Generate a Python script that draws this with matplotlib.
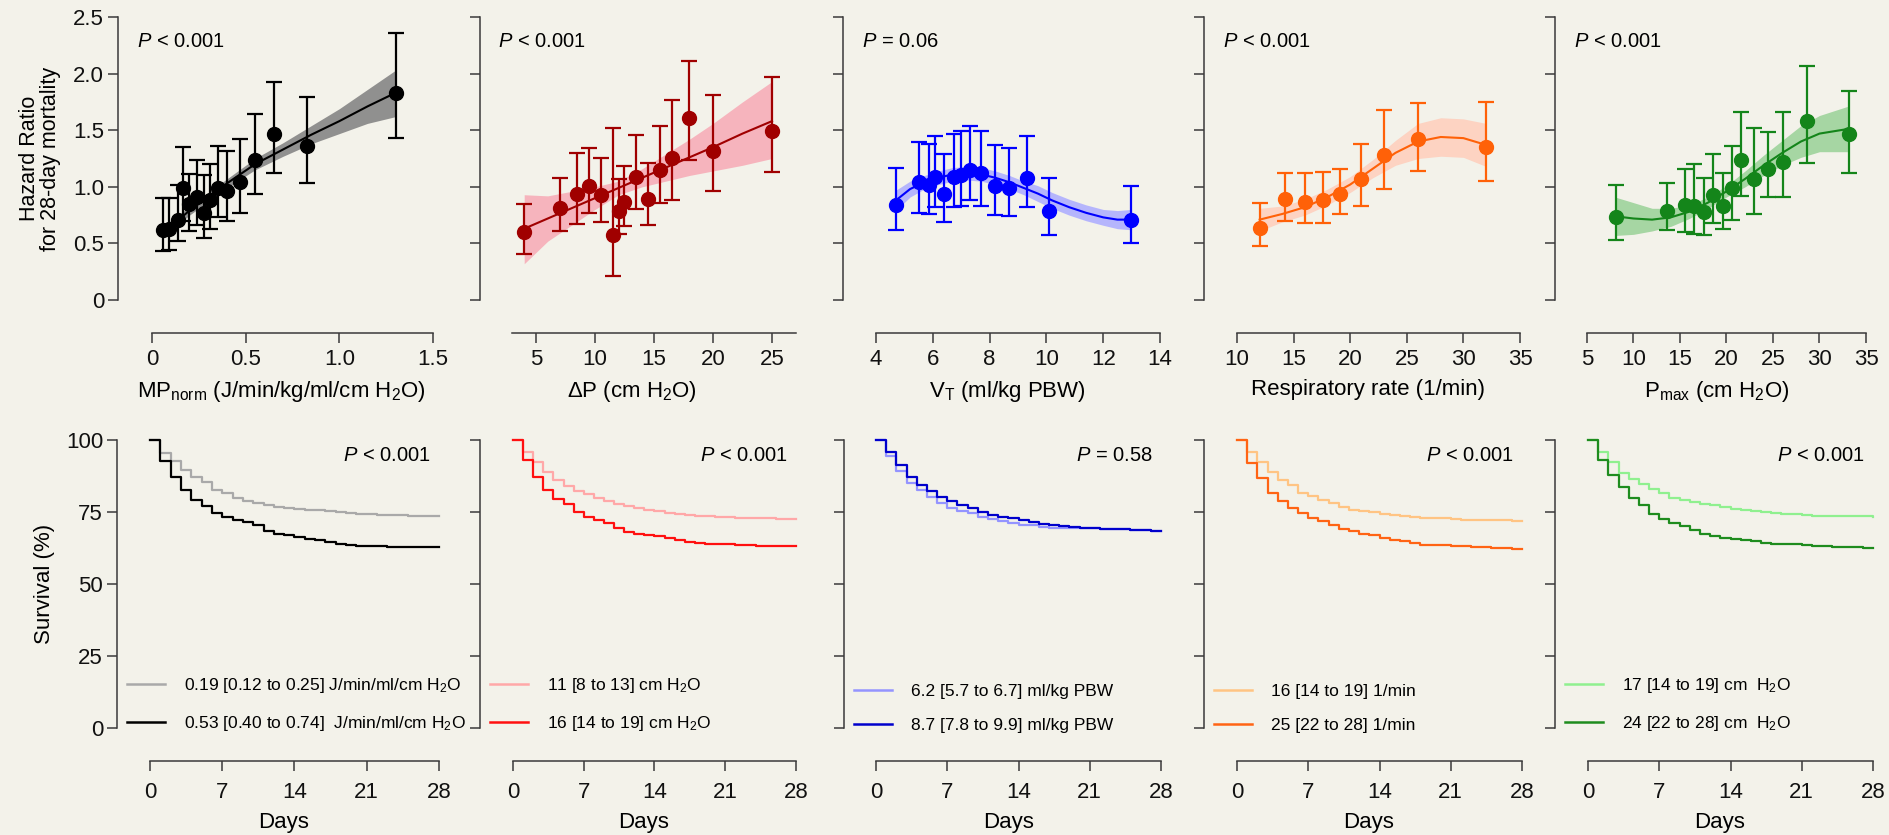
import matplotlib
matplotlib.use("Agg")
import matplotlib.pyplot as plt
from matplotlib.lines import Line2D

plt.rcParams['font.family'] = ['Liberation Sans', 'DejaVu Sans']
plt.rcParams['mathtext.fontset'] = 'custom'
plt.rcParams['mathtext.rm'] = 'Liberation Sans'
plt.rcParams['mathtext.it'] = 'Liberation Sans:italic'
plt.rcParams['mathtext.bf'] = 'Liberation Sans:bold'

BG = '#F3F2EA'
SPINE = '#3A3A3A'

# ---------------- Top row: hazard ratio data ----------------
mp_x = [0.06, 0.09, 0.14, 0.165, 0.20, 0.24, 0.28, 0.31, 0.35, 0.40, 0.47, 0.55, 0.65, 0.83, 1.30]
mp_y = [0.62, 0.63, 0.71, 0.99, 0.85, 0.91, 0.77, 0.88, 0.99, 0.96, 1.04, 1.24, 1.47, 1.36, 1.83]
mp_lo = [0.43, 0.44, 0.52, 0.70, 0.61, 0.66, 0.55, 0.63, 0.73, 0.70, 0.77, 0.94, 1.12, 1.03, 1.43]
mp_hi = [0.90, 0.90, 1.02, 1.35, 1.11, 1.24, 1.10, 1.20, 1.36, 1.32, 1.42, 1.64, 1.93, 1.79, 2.36]
mp_cx = [0.06, 0.10, 0.15, 0.20, 0.30, 0.40, 0.55, 0.70, 0.85, 1.00, 1.15, 1.30]
mp_cy = [0.62, 0.66, 0.72, 0.79, 0.91, 1.03, 1.20, 1.33, 1.46, 1.58, 1.71, 1.83]
mp_clo = [0.57, 0.62, 0.68, 0.75, 0.87, 0.99, 1.15, 1.27, 1.38, 1.47, 1.56, 1.62]
mp_chi = [0.67, 0.70, 0.76, 0.83, 0.95, 1.07, 1.25, 1.39, 1.54, 1.69, 1.86, 2.03]

dp_x = [4.0, 7.0, 8.5, 9.5, 10.5, 11.5, 12.0, 12.5, 13.5, 14.5, 15.5, 16.5, 18.0, 20.0, 25.0]
dp_y = [0.60, 0.81, 0.94, 1.01, 0.93, 0.57, 0.79, 0.87, 1.09, 0.89, 1.15, 1.25, 1.61, 1.32, 1.49]
dp_lo = [0.41, 0.61, 0.67, 0.77, 0.69, 0.21, 0.58, 0.65, 0.80, 0.66, 0.86, 0.88, 1.24, 0.96, 1.13]
dp_hi = [0.85, 1.08, 1.30, 1.34, 1.25, 1.52, 1.07, 1.18, 1.46, 1.21, 1.54, 1.77, 2.11, 1.81, 1.97]
dp_cx = [4.0, 6.0, 8.0, 10.0, 12.0, 14.0, 16.0, 18.0, 20.0, 22.5, 25.0]
dp_cy = [0.63, 0.72, 0.81, 0.90, 0.99, 1.08, 1.17, 1.26, 1.35, 1.47, 1.58]
dp_clo = [0.32, 0.52, 0.66, 0.80, 0.93, 1.00, 1.05, 1.10, 1.14, 1.19, 1.25]
dp_chi = [0.93, 0.92, 0.96, 1.00, 1.05, 1.16, 1.29, 1.42, 1.56, 1.75, 1.93]

vt_x = [4.70, 5.50, 5.88, 6.09, 6.41, 6.73, 6.99, 7.32, 7.69, 8.20, 8.69, 9.31, 10.08, 12.99]
vt_y = [0.84, 1.04, 1.02, 1.09, 0.94, 1.09, 1.10, 1.15, 1.12, 1.01, 0.99, 1.08, 0.79, 0.71]
vt_lo = [0.62, 0.77, 0.76, 0.82, 0.69, 0.82, 0.83, 0.88, 0.83, 0.75, 0.74, 0.82, 0.57, 0.50]
vt_hi = [1.17, 1.40, 1.38, 1.45, 1.29, 1.47, 1.49, 1.54, 1.49, 1.37, 1.34, 1.45, 1.08, 1.01]
vt_cx = [4.7, 5.2, 5.7, 6.2, 6.7, 7.2, 7.7, 8.2, 8.7, 9.2, 9.7, 10.2, 10.8, 11.4, 12.0, 12.5, 13.0]
vt_cy = [0.88, 0.98, 1.04, 1.08, 1.11, 1.12, 1.11, 1.08, 1.04, 0.99, 0.94, 0.88, 0.82, 0.77, 0.73, 0.71, 0.71]
vt_clo = [0.79, 0.91, 0.98, 1.02, 1.05, 1.06, 1.05, 1.02, 0.98, 0.93, 0.87, 0.81, 0.75, 0.70, 0.66, 0.63, 0.62]
vt_chi = [0.97, 1.05, 1.10, 1.14, 1.17, 1.18, 1.17, 1.14, 1.10, 1.05, 1.01, 0.95, 0.89, 0.84, 0.80, 0.79, 0.80]

rr_x = [12.0, 14.26, 15.97, 17.56, 19.06, 20.97, 23.0, 26.03, 32.0]
rr_y = [0.64, 0.89, 0.87, 0.88, 0.94, 1.07, 1.28, 1.42, 1.35]
rr_lo = [0.48, 0.70, 0.68, 0.68, 0.76, 0.83, 0.98, 1.14, 1.05]
rr_hi = [0.86, 1.12, 1.12, 1.13, 1.16, 1.38, 1.68, 1.74, 1.75]
rr_cx = [12, 14, 16, 18, 20, 22, 24, 26, 28, 30, 32]
rr_cy = [0.71, 0.76, 0.82, 0.91, 1.02, 1.16, 1.30, 1.40, 1.44, 1.43, 1.37]
rr_clo = [0.61, 0.69, 0.75, 0.84, 0.95, 1.08, 1.19, 1.25, 1.27, 1.26, 1.18]
rr_chi = [0.81, 0.83, 0.89, 0.98, 1.09, 1.24, 1.41, 1.56, 1.61, 1.60, 1.56]

pm_x = [8.11, 13.59, 15.49, 16.53, 17.53, 18.53, 19.57, 20.57, 21.54, 22.97, 24.51, 26.12, 28.64, 33.18]
pm_y = [0.73, 0.79, 0.84, 0.83, 0.78, 0.93, 0.83, 0.99, 1.24, 1.07, 1.16, 1.22, 1.58, 1.47]
pm_lo = [0.53, 0.62, 0.60, 0.58, 0.57, 0.68, 0.63, 0.71, 0.92, 0.76, 0.91, 0.91, 1.21, 1.12]
pm_hi = [1.02, 1.03, 1.16, 1.20, 1.08, 1.29, 1.12, 1.36, 1.66, 1.52, 1.48, 1.66, 2.07, 1.85]
pm_cx = [8, 10, 12, 14, 16, 18, 20, 22, 24, 26, 28, 30, 33]
pm_cy = [0.74, 0.72, 0.71, 0.73, 0.78, 0.86, 0.96, 1.07, 1.19, 1.30, 1.40, 1.47, 1.51]
pm_clo = [0.57, 0.58, 0.61, 0.65, 0.72, 0.81, 0.91, 1.00, 1.10, 1.19, 1.26, 1.31, 1.31]
pm_chi = [0.91, 0.86, 0.81, 0.81, 0.84, 0.91, 1.01, 1.14, 1.28, 1.41, 1.54, 1.63, 1.71]

hr_yticks = [0, 0.5, 1.0, 1.5, 2.0, 2.5]
hr_yticklabels = ['0', '0.5', '1.0', '1.5', '2.0', '2.5']

top_panels = [
    dict(x=mp_x, y=mp_y, lo=mp_lo, hi=mp_hi, cx=mp_cx, cy=mp_cy, clo=mp_clo, chi=mp_chi,
         color='#000000', band='#7F7F7F', band_alpha=0.85,
         xticks=[0, 0.5, 1.0, 1.5], xticklabels=['0', '0.5', '1.0', '1.5'], xbounds=(0, 1.5),
         xlabel=r'MP$_{\mathrm{norm}}$ (J/min/kg/ml/cm H$_{2}$O)', p=r'$\it{P}$ < 0.001',
         px=(118, 152, 433)),
    dict(x=dp_x, y=dp_y, lo=dp_lo, hi=dp_hi, cx=dp_cx, cy=dp_cy, clo=dp_clo, chi=dp_chi,
         color='#A00000', band='#F7AEB8', band_alpha=0.9,
         xticks=[5, 10, 15, 20, 25], xticklabels=['5', '10', '15', '20', '25'], xbounds=(3, 27),
         xlabel=r'$\Delta$P (cm H$_{2}$O)', p=r'$\it{P}$ < 0.001',
         px=(480, 536, 772)),
    dict(x=vt_x, y=vt_y, lo=vt_lo, hi=vt_hi, cx=vt_cx, cy=vt_cy, clo=vt_clo, chi=vt_chi,
         color='#0000FF', band='#AFAFFF', band_alpha=0.9,
         xticks=[4, 6, 8, 10, 12, 14], xticklabels=['4', '6', '8', '10', '12', '14'], xbounds=(4, 14),
         xlabel=r'V$_{\mathrm{T}}$ (ml/kg PBW)', p=r'$\it{P}$ = 0.06',
         px=(843, 876, 1160)),
    dict(x=rr_x, y=rr_y, lo=rr_lo, hi=rr_hi, cx=rr_cx, cy=rr_cy, clo=rr_clo, chi=rr_chi,
         color='#FF6108', band='#FDD3C2', band_alpha=1.0,
         xticks=[10, 15, 20, 25, 30, 35], xticklabels=['10', '15', '20', '25', '30', '35'], xbounds=(10, 35),
         xlabel='Respiratory rate (1/min)', p=r'$\it{P}$ < 0.001',
         px=(1204, 1237, 1520)),
    dict(x=pm_x, y=pm_y, lo=pm_lo, hi=pm_hi, cx=pm_cx, cy=pm_cy, clo=pm_clo, chi=pm_chi,
         color='#14851A', band='#A6D6A3', band_alpha=1.0,
         xticks=[5, 10, 15, 20, 25, 30, 35], xticklabels=['5', '10', '15', '20', '25', '30', '35'], xbounds=(5, 35),
         xlabel=r'P$_{\mathrm{max}}$ (cm H$_{2}$O)', p=r'$\it{P}$ < 0.001',
         px=(1555, 1587, 1866)),
]

# ---------------- Bottom row: Kaplan-Meier data ----------------
days = list(range(29))
mp_low_surv = [100, 95.4, 92.6, 89.7, 87.0, 85.3, 82.6, 81.5, 80.0, 78.9, 78.0, 77.4, 76.8, 76.4, 76.0,
               75.7, 75.5, 75.2, 74.9, 74.6, 74.3, 74.1, 74.0, 73.9, 73.8, 73.7, 73.7, 73.6, 73.6]
mp_high_surv = [100, 92.7, 87.2, 82.6, 79.3, 77.2, 74.7, 73.2, 72.2, 71.4, 70.3, 68.5, 67.4, 66.8, 66.2,
                65.7, 65.1, 64.5, 63.9, 63.4, 63.1, 63.1, 63.0, 62.9, 62.8, 62.8, 62.8, 62.8, 62.8]
dp_low_surv = [100, 95.8, 92.4, 88.9, 86.2, 84.1, 82.1, 81.2, 79.7, 78.8, 77.6, 77.0, 76.4, 75.8, 75.3,
               74.7, 74.2, 73.9, 73.6, 73.4, 73.3, 73.1, 73.0, 72.9, 72.8, 72.7, 72.6, 72.5, 72.4]
dp_high_surv = [100, 93.2, 87.3, 82.6, 79.4, 77.6, 75.0, 73.3, 72.3, 71.2, 69.4, 68.0, 67.4, 66.8, 66.5,
                65.9, 65.3, 64.5, 64.1, 64.0, 63.9, 63.7, 63.5, 63.4, 63.3, 63.3, 63.3, 63.3, 63.3]
vt_low_surv = [100, 94.4, 89.1, 85.0, 82.6, 80.3, 78.0, 76.5, 75.4, 74.5, 73.3, 72.5, 71.8, 71.2, 70.6,
               70.4, 69.8, 69.5, 69.5, 69.4, 69.4, 69.3, 69.2, 69.1, 69.0, 68.8, 68.6, 68.4, 68.3]
vt_high_surv = [100, 95.8, 91.4, 87.3, 84.4, 82.3, 80.3, 78.8, 77.4, 76.2, 74.8, 73.9, 73.3, 72.7, 72.1,
                71.5, 70.9, 70.4, 70.0, 69.6, 69.4, 69.3, 69.2, 69.1, 69.0, 68.8, 68.6, 68.4, 68.3]
rr_low_surv = [100, 95.9, 92.4, 88.9, 86.2, 84.2, 81.7, 80.5, 79.1, 78.0, 76.8, 75.6, 75.3, 74.8, 74.4,
               73.9, 73.5, 73.3, 73.0, 72.8, 72.7, 72.5, 72.3, 72.2, 72.2, 72.1, 72.1, 71.9, 71.9]
rr_high_surv = [100, 92.0, 86.8, 81.5, 78.8, 76.5, 74.5, 73.0, 71.8, 70.6, 69.2, 68.3, 67.4, 66.9, 65.9,
                65.3, 64.7, 64.1, 63.5, 63.5, 63.5, 63.3, 63.0, 62.9, 62.7, 62.5, 62.3, 62.2, 62.1]
pm_low_surv = [100, 95.8, 92.4, 88.5, 86.5, 84.6, 82.8, 81.7, 80.0, 79.1, 78.3, 77.9, 77.3, 76.7, 76.1,
               75.8, 75.2, 74.9, 74.6, 74.3, 74.1, 73.8, 73.6, 73.6, 73.6, 73.6, 73.6, 73.4, 73.3]
pm_high_surv = [100, 93.0, 87.7, 83.5, 79.9, 77.3, 74.4, 72.4, 71.3, 70.1, 68.8, 67.4, 66.6, 66.0, 65.7,
                65.1, 64.7, 64.3, 63.9, 63.8, 63.7, 63.4, 63.1, 63.0, 62.9, 62.8, 62.8, 62.6, 62.5]

km_xticks = [0, 7, 14, 21, 28]
km_yticks = [0, 25, 50, 75, 100]

bottom_panels = [
    dict(low=mp_low_surv, high=mp_high_surv, c_low='#A9A9A9', c_high='#000000',
         l_low=r'0.19 [0.12 to 0.25] J/min/ml/cm H$_{2}$O', l_high=r'0.53 [0.40 to 0.74]  J/min/ml/cm H$_{2}$O',
         p=r'$\it{P}$ < 0.001', px=(117, 150, 439)),
    dict(low=dp_low_surv, high=dp_high_surv, c_low='#FFA8A8', c_high='#FF1010',
         l_low=r'11 [8 to 13] cm H$_{2}$O', l_high=r'16 [14 to 19] cm H$_{2}$O',
         p=r'$\it{P}$ < 0.001', px=(480, 513, 796)),
    dict(low=vt_low_surv, high=vt_high_surv, c_low='#9494FF', c_high='#0000CC',
         l_low='6.2 [5.7 to 6.7] ml/kg PBW', l_high='8.7 [7.8 to 9.9] ml/kg PBW',
         p=r'$\it{P}$ = 0.58', px=(844, 876, 1161)),
    dict(low=rr_low_surv, high=rr_high_surv, c_low='#FFC483', c_high='#FF6414',
         l_low='16 [14 to 19] 1/min', l_high='25 [22 to 28] 1/min',
         p=r'$\it{P}$ < 0.001', px=(1204, 1237, 1522)),
    dict(low=pm_low_surv, high=pm_high_surv, c_low='#8FF08F', c_high='#1E8C1E',
         l_low=r'17 [14 to 19] cm  H$_{2}$O', l_high=r'24 [22 to 28] cm  H$_{2}$O',
         p=r'$\it{P}$ < 0.001', px=(1555, 1588, 1873)),
]

W, H = 1890, 835
fig = plt.figure(figsize=(W / 100, H / 100), dpi=100, facecolor=BG)

TICK_FS = 16
LABEL_FS = 16


def make_axes(px, v0, v1, top_px, bot_px):
    spine_px, t0, t1 = px
    right_px = t1 + 12
    ax = fig.add_axes([spine_px / W, 1 - bot_px / H, (right_px - spine_px) / W, (bot_px - top_px) / H])
    ax.set_facecolor('none')
    scale = (v1 - v0) / (t1 - t0)
    ax.set_xlim(v0 + (spine_px - t0) * scale, v0 + (right_px - t0) * scale)
    for s in ('top', 'right'):
        ax.spines[s].set_visible(False)
    for s in ('left', 'bottom'):
        ax.spines[s].set_color(SPINE)
        ax.spines[s].set_linewidth(1.1)
    ax.spines['bottom'].set_position(('outward', 24))
    ax.tick_params(axis='both', direction='out', length=7, width=1.1, color=SPINE,
                   labelsize=TICK_FS, labelcolor='#111111')
    ax.tick_params(axis='x', pad=4)
    ax.tick_params(axis='y', pad=3)
    return ax


for i, d in enumerate(top_panels):
    ax = make_axes(d['px'], d['xticks'][0], d['xticks'][-1], 17, 300)
    ax.set_ylim(0, 2.5)
    ax.spines['left'].set_bounds(0, 2.5)
    ax.spines['bottom'].set_bounds(*d['xbounds'])
    ax.set_yticks(hr_yticks)
    if i == 0:
        ax.set_yticklabels(hr_yticklabels)
        ax.set_ylabel('Hazard Ratio\nfor 28-day mortality', fontsize=15.5, linespacing=1.0, labelpad=9)
    else:
        ax.set_yticklabels([])
    ax.set_xticks(d['xticks'])
    ax.set_xticklabels(d['xticklabels'])
    ax.fill_between(d['cx'], d['clo'], d['chi'], color=d['band'], alpha=d['band_alpha'], lw=0, zorder=1)
    ax.plot(d['cx'], d['cy'], color=d['color'], lw=1.5, zorder=2)
    ax.errorbar(d['x'], d['y'],
                yerr=[[y - l for y, l in zip(d['y'], d['lo'])], [h - y for y, h in zip(d['y'], d['hi'])]],
                fmt='o', color=d['color'], ms=10, elinewidth=1.6, capsize=5.5, capthick=1.6, zorder=3,
                clip_on=False)
    ax.set_xlabel(d['xlabel'], fontsize=LABEL_FS, labelpad=7)
    ax.text(0.058, 0.913, d['p'], transform=ax.transAxes, fontsize=14.5, ha='left', va='center')

for i, d in enumerate(bottom_panels):
    ax = make_axes(d['px'], 0, 28, 440, 727.5)
    ax.tick_params(axis='x', pad=8)
    ax.set_ylim(0, 100)
    ax.spines['left'].set_bounds(0, 100)
    ax.spines['bottom'].set_bounds(0, 28)
    ax.set_yticks(km_yticks)
    if i == 0:
        ax.set_yticklabels([str(v) for v in km_yticks])
        ax.set_ylabel('Survival (%)', fontsize=LABEL_FS, labelpad=8)
    else:
        ax.set_yticklabels([])
    ax.set_xticks(km_xticks)
    ax.set_xticklabels([str(v) for v in km_xticks])
    ax.plot(days, d['low'], drawstyle='steps-post', color=d['c_low'], lw=1.6, clip_on=False, zorder=2)
    ax.plot(days, d['high'], drawstyle='steps-post', color=d['c_high'], lw=1.6, clip_on=False, zorder=3)
    handles = [Line2D([], [], color=d['c_low'], lw=1.8), Line2D([], [], color=d['c_high'], lw=1.8)]
    ax.legend(handles, [d['l_low'], d['l_high']], loc='lower left', bbox_to_anchor=(0.03, -0.02),
              frameon=False, fontsize=12.5, handlelength=2.2, handletextpad=1.1, labelspacing=1.1,
              borderaxespad=0, borderpad=0)
    ax.set_xlabel('Days', fontsize=LABEL_FS, labelpad=7)
    ax.text(27.2, 94.5, d['p'], fontsize=14.5, ha='right', va='center')

fig.savefig('out.png', dpi=100, facecolor=BG)
